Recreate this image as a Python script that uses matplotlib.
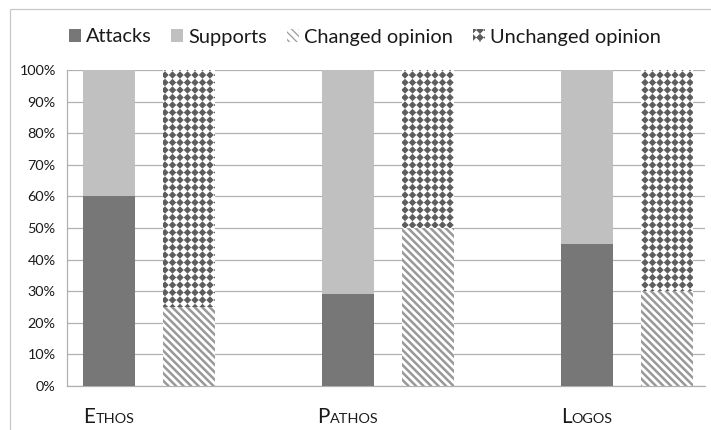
import matplotlib
matplotlib.use("Agg")
import matplotlib.pyplot as plt
import matplotlib.hatch as mhatch
import numpy as np
from matplotlib.offsetbox import AnnotationBbox, HPacker, TextArea
from matplotlib.patches import Rectangle
from matplotlib.path import Path
from matplotlib.ticker import FuncFormatter

categories = ["Ethos", "Pathos", "Logos"]
attacks = [60, 29, 45]
supports = [40, 71, 55]
changed = [25, 50, 30]
unchanged = [75, 50, 70]
series_names = ["Attacks", "Supports", "Changed opinion", "Unchanged opinion"]
yticks = list(range(0, 101, 10))


class DiamondDots(mhatch.HatchPatternBase):
    """Filled diamonds on a square grid, used for the '*' hatch."""

    def __init__(self, hatch, density):
        self.num_rows = hatch.count("*") * density
        self.num_vertices = 5 * (self.num_rows + 1) ** 2 if self.num_rows else 0

    def set_vertices_and_codes(self, vertices, codes):
        step = 1.0 / self.num_rows
        r = 0.40 * step
        shape = np.array([[0, r], [-r, 0], [0, -r], [r, 0], [0, r]])
        grid = np.linspace(0, 1, self.num_rows + 1)
        vertices[:] = np.concatenate([shape + [cx, cy] for cy in grid for cx in grid])
        shape_codes = [Path.MOVETO, Path.LINETO, Path.LINETO, Path.LINETO, Path.CLOSEPOLY]
        codes[:] = np.tile(shape_codes, len(grid) ** 2)


mhatch._hatch_types = [DiamondDots if t is mhatch.Stars else t
                       for t in mhatch._hatch_types]

plt.rcParams["font.family"] = ["Lato", "DejaVu Sans"]

DPI = 90
fig = plt.figure(figsize=(711 / DPI, 430 / DPI), dpi=DPI)
ax = fig.add_axes([67 / 711, 1 - 386 / 430, 638 / 711, 316 / 430])

x = np.arange(len(categories))
offset = 0.168
width = 0.218
c_attack = "#777777"
c_support = "#c0c0c0"
c_stripe = "#999999"
c_dots = "#5c5c5c"


def hatched_bar(xpos, values, bottom, hatch, color, hlw):
    bars = ax.bar(xpos, values, width, bottom=bottom, facecolor="white",
                  edgecolor=color, linewidth=0, hatch=hatch, zorder=3)
    for b in bars:
        if hasattr(b, "set_hatch_linewidth"):
            b.set_hatch_linewidth(hlw)
    return bars


b1 = ax.bar(x - offset, attacks, width, color=c_attack, linewidth=0, zorder=3)
b2 = ax.bar(x - offset, supports, width, bottom=attacks, color=c_support,
            linewidth=0, zorder=3)
b3 = hatched_bar(x + offset, changed, 0, "\\\\\\\\", c_stripe, 2.0)
b4 = hatched_bar(x + offset, unchanged, changed, "**", c_dots, 0.8)

ax.set_ylim(0, 100)
ax.set_xlim(-0.343, 2.326)
ax.set_yticks(yticks)
ax.yaxis.set_major_formatter(FuncFormatter(lambda v, _: f"{v:.0f}%"))
ax.tick_params(axis="y", length=0, pad=9, labelsize=11.5, labelcolor="#1a1a1a")
ax.set_xticks([])
ax.grid(axis="y", color="#b0b0b0", linewidth=1.0, zorder=0)
ax.set_axisbelow(True)
for side in ("top", "right"):
    ax.spines[side].set_visible(False)
for side in ("left", "bottom"):
    ax.spines[side].set_color("#b0b0b0")
    ax.spines[side].set_linewidth(1.0)

# small-caps category names under the attack/support bars
for xpos, name in zip(x - offset, categories):
    pack = HPacker(children=[
        TextArea(name[0].upper(), textprops=dict(size=16.5, color="#1a1a1a")),
        TextArea(name[1:].upper(), textprops=dict(size=11.5, color="#1a1a1a")),
    ], align="baseline", pad=0, sep=0)
    ab = AnnotationBbox(pack, (xpos, 0), xycoords=ax.get_xaxis_transform(),
                        xybox=(0, -24.5), boxcoords="offset points",
                        box_alignment=(0.5, 0.5), frameon=False)
    ax.add_artist(ab)

leg = fig.legend([b1[0], b2[0], b3[0], b4[0]], series_names,
                 loc="center", bbox_to_anchor=(0.513, 1 - 37 / 430), ncol=4,
                 frameon=False, fontsize=16, handlelength=0.6, handleheight=0.6,
                 handletextpad=0.25, columnspacing=1.0, borderaxespad=0)
for t in leg.get_texts():
    t.set_color("#1a1a1a")

# light outer border of the chart area
fig.patches.append(Rectangle((10 / 711, -0.1), 1.1, 1 - 9 / 430 + 0.1,
                             transform=fig.transFigure, fill=False,
                             edgecolor="#c8c8c8", linewidth=1.0))

fig.savefig("out.png", dpi=DPI)
